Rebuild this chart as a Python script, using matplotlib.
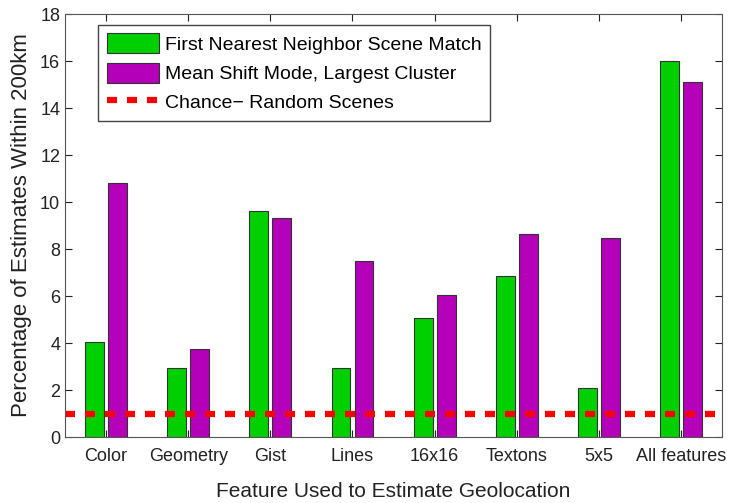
import matplotlib
matplotlib.use("Agg")
import matplotlib.pyplot as plt
import numpy as np

categories = ["Color", "Geometry", "Gist", "Lines", "16x16", "Textons", "5x5", "All features"]
first_nn = [4.05, 2.95, 9.6, 2.95, 5.05, 6.85, 2.1, 16.0]
mean_shift = [10.8, 3.75, 9.3, 7.5, 6.05, 8.65, 8.45, 15.1]
chance = 1.0

plt.rcParams['font.family'] = ['Liberation Sans', 'DejaVu Sans']

fig = plt.figure(figsize=(7.34, 5.03), dpi=100)
ax = fig.add_axes([0.0886, 0.1312, 0.8951, 0.8408])

x = np.arange(1, len(categories) + 1)
w = 0.23
off = 0.14
ax.bar(x - off, first_nn, w, color='#00d000', edgecolor='#333333', linewidth=0.8,
       label='First Nearest Neighbor Scene Match')
ax.bar(x + off, mean_shift, w, color='#b400b8', edgecolor='#333333', linewidth=0.8,
       label='Mean Shift Mode, Largest Cluster')
ax.axhline(chance, color='#ff0000', linewidth=4.5, linestyle=(0, (1.6, 1.6)),
           label='Chance\u2212 Random Scenes')

ax.set_xlim(0.5, 8.5)
ax.set_ylim(0, 18)
ax.set_yticks(np.arange(0, 19, 2))
ax.set_xticks(x)
ax.set_xticklabels(categories)
ax.tick_params(direction='in', top=True, right=True, labelsize=13, length=5, colors='#222222')
ax.tick_params(axis='x', pad=8)
for s in ax.spines.values():
    s.set_color('#555555')
ax.set_xlabel('Feature Used to Estimate Geolocation', fontsize=15, labelpad=12, color='#222222')
ax.set_ylabel('Percentage of Estimates Within 200km', fontsize=16, color='#222222', labelpad=6)

handles, labels = ax.get_legend_handles_labels()
order = [1, 2, 0]
leg = ax.legend([handles[i] for i in order], [labels[i] for i in order],
                loc='upper left', bbox_to_anchor=(0.05, 0.975), fontsize=14, fancybox=False,
                framealpha=1, edgecolor='#444444', handlelength=2.7, handleheight=1.2,
                borderpad=0.45, labelspacing=0.45, handletextpad=0.3, borderaxespad=0)
leg.get_frame().set_linewidth(1.0)

fig.savefig('out.png', dpi=100)
